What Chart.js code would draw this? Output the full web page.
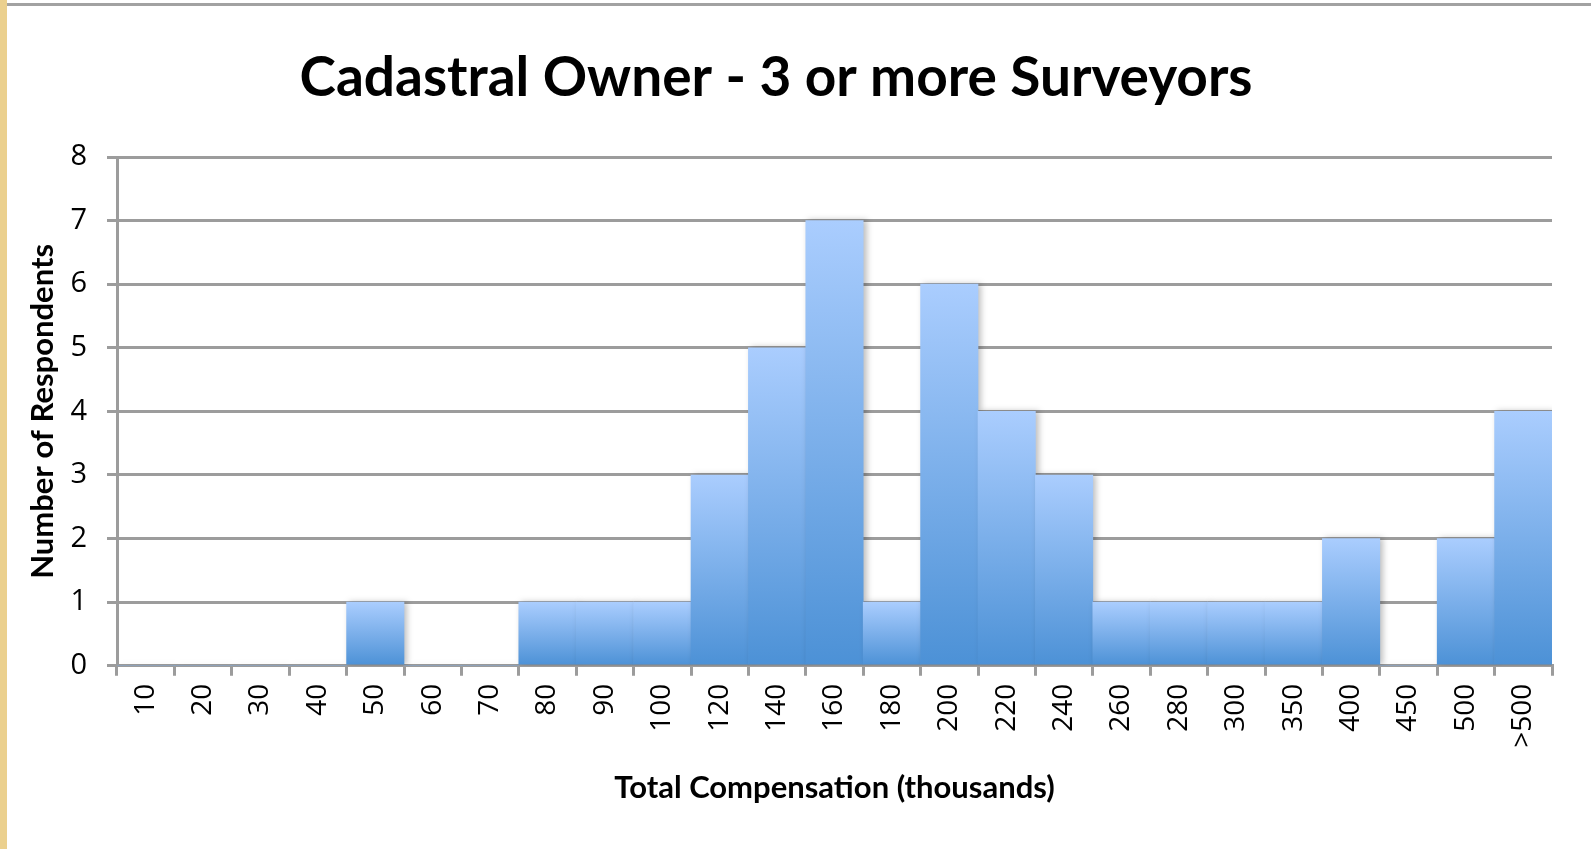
<!DOCTYPE html>
<html>
<head>
<meta charset="utf-8">
<script src="https://cdn.jsdelivr.net/npm/chart.js@4"></script>
<style>
  html, body { margin: 0; padding: 0; background: #fff; }
  #wrap { position: relative; width: 1591px; height: 849px; overflow: hidden; }
  #stripe { position: absolute; left: 0; top: 0; width: 7px; height: 849px; background: #ebd08e; }
  #topline { position: absolute; left: 7px; top: 3px; width: 1584px; height: 3px; background: #a2a2a2; }
  canvas { position: absolute; left: 0; top: 0; }
</style>
</head>
<body>
<div id="wrap">
  <canvas id="histChart" width="1591" height="849"></canvas>
  <div id="stripe"></div>
  <div id="topline"></div>
</div>
<script>
// compensation brackets (thousands) and respondent counts
const brackets = ['10', '20', '30', '40', '50', '60', '70', '80', '90', '100',
  '120', '140', '160', '180', '200', '220', '240', '260', '280', '300',
  '350', '400', '450', '500', '>500'];
const respondents = [0, 0, 0, 0, 1, 0, 0, 1, 1, 1,
  3, 5, 7, 1, 6, 4, 3, 1, 1, 1,
  1, 2, 0, 2, 4];
const yTicks = [0, 1, 2, 3, 4, 5, 6, 7, 8];

const gridGray = '#9c9c9c';

// each bar gets its own top-to-bottom gradient
function barFill(ctx) {
  const chart = ctx.chart;
  const y = chart.scales.y;
  if (!y || ctx.raw === undefined) return '#7aaee8';
  const top = y.getPixelForValue(ctx.raw);
  const base = y.getPixelForValue(0);
  if (!isFinite(top) || !isFinite(base) || top === base) return '#7aaee8';
  const g = chart.ctx.createLinearGradient(0, top, 0, base);
  g.addColorStop(0, '#aacdfe');
  g.addColorStop(1, '#4c91d6');
  return g;
}

const barShadow = {
  id: 'barShadow',
  beforeDatasetsDraw(chart) {
    const c = chart.ctx;
    c.save();
    c.shadowColor = 'rgba(0,0,0,0.25)';
    c.shadowBlur = 6;
    c.shadowOffsetX = 3;
    c.shadowOffsetY = 0;
  },
  afterDatasetsDraw(chart) {
    chart.ctx.restore();
  }
};

const ctxHist = document.getElementById('histChart').getContext('2d');
const histChart = new Chart(ctxHist, {
  type: 'bar',
  data: {
    labels: brackets,
    datasets: [{
      label: 'Respondents',
      data: respondents,
      backgroundColor: barFill,
      borderWidth: 0,
      categoryPercentage: 1.0,
      barPercentage: 1.0
    }]
  },
  options: {
    responsive: false,
    animation: false,
    layout: { padding: { left: 0, right: 39, top: 0, bottom: 42 } },
    plugins: {
      legend: { display: false },
      tooltip: { enabled: false },
      title: {
        display: true,
        text: 'Cadastral Owner - 3 or more Surveyors',
        color: '#000',
        font: { family: 'Lato', size: 55, weight: 'bold', lineHeight: 1.2 },
        padding: { top: 45, bottom: 46 }
      }
    },
    scales: {
      x: {
        offset: true,
        grid: {
          offset: true,
          drawOnChartArea: false,
          drawTicks: true,
          tickLength: 10,
          color: gridGray,
          lineWidth: 3
        },
        border: { display: true, color: gridGray, width: 3 },
        ticks: {
          color: '#000',
          font: { family: 'Open Sans', size: 28 },
          minRotation: 90,
          maxRotation: 90,
          autoSkip: false,
          padding: 8
        },
        title: {
          display: true,
          text: 'Total Compensation (thousands)',
          color: '#000',
          font: { family: 'Lato', size: 31, weight: 'bold' },
          padding: { top: 14, bottom: 0 }
        }
      },
      y: {
        min: 0,
        max: 8,
        afterBuildTicks(scale) {
          scale.ticks = yTicks.map(v => ({ value: v }));
        },
        afterFit(scale) {
          scale.width = 117;
        },
        grid: {
          color: gridGray,
          lineWidth: 3,
          tickLength: 10
        },
        border: { display: true, color: gridGray, width: 3 },
        ticks: {
          color: '#000',
          font: { family: 'Open Sans', size: 29 },
          padding: 20
        },
        title: {
          display: true,
          text: 'Number of Respondents',
          color: '#000',
          font: { family: 'Lato', size: 31, weight: 'bold' },
          padding: { top: 24, bottom: 0 }
        }
      }
    }
  },
  plugins: [barShadow]
});
</script>
</body>
</html>
